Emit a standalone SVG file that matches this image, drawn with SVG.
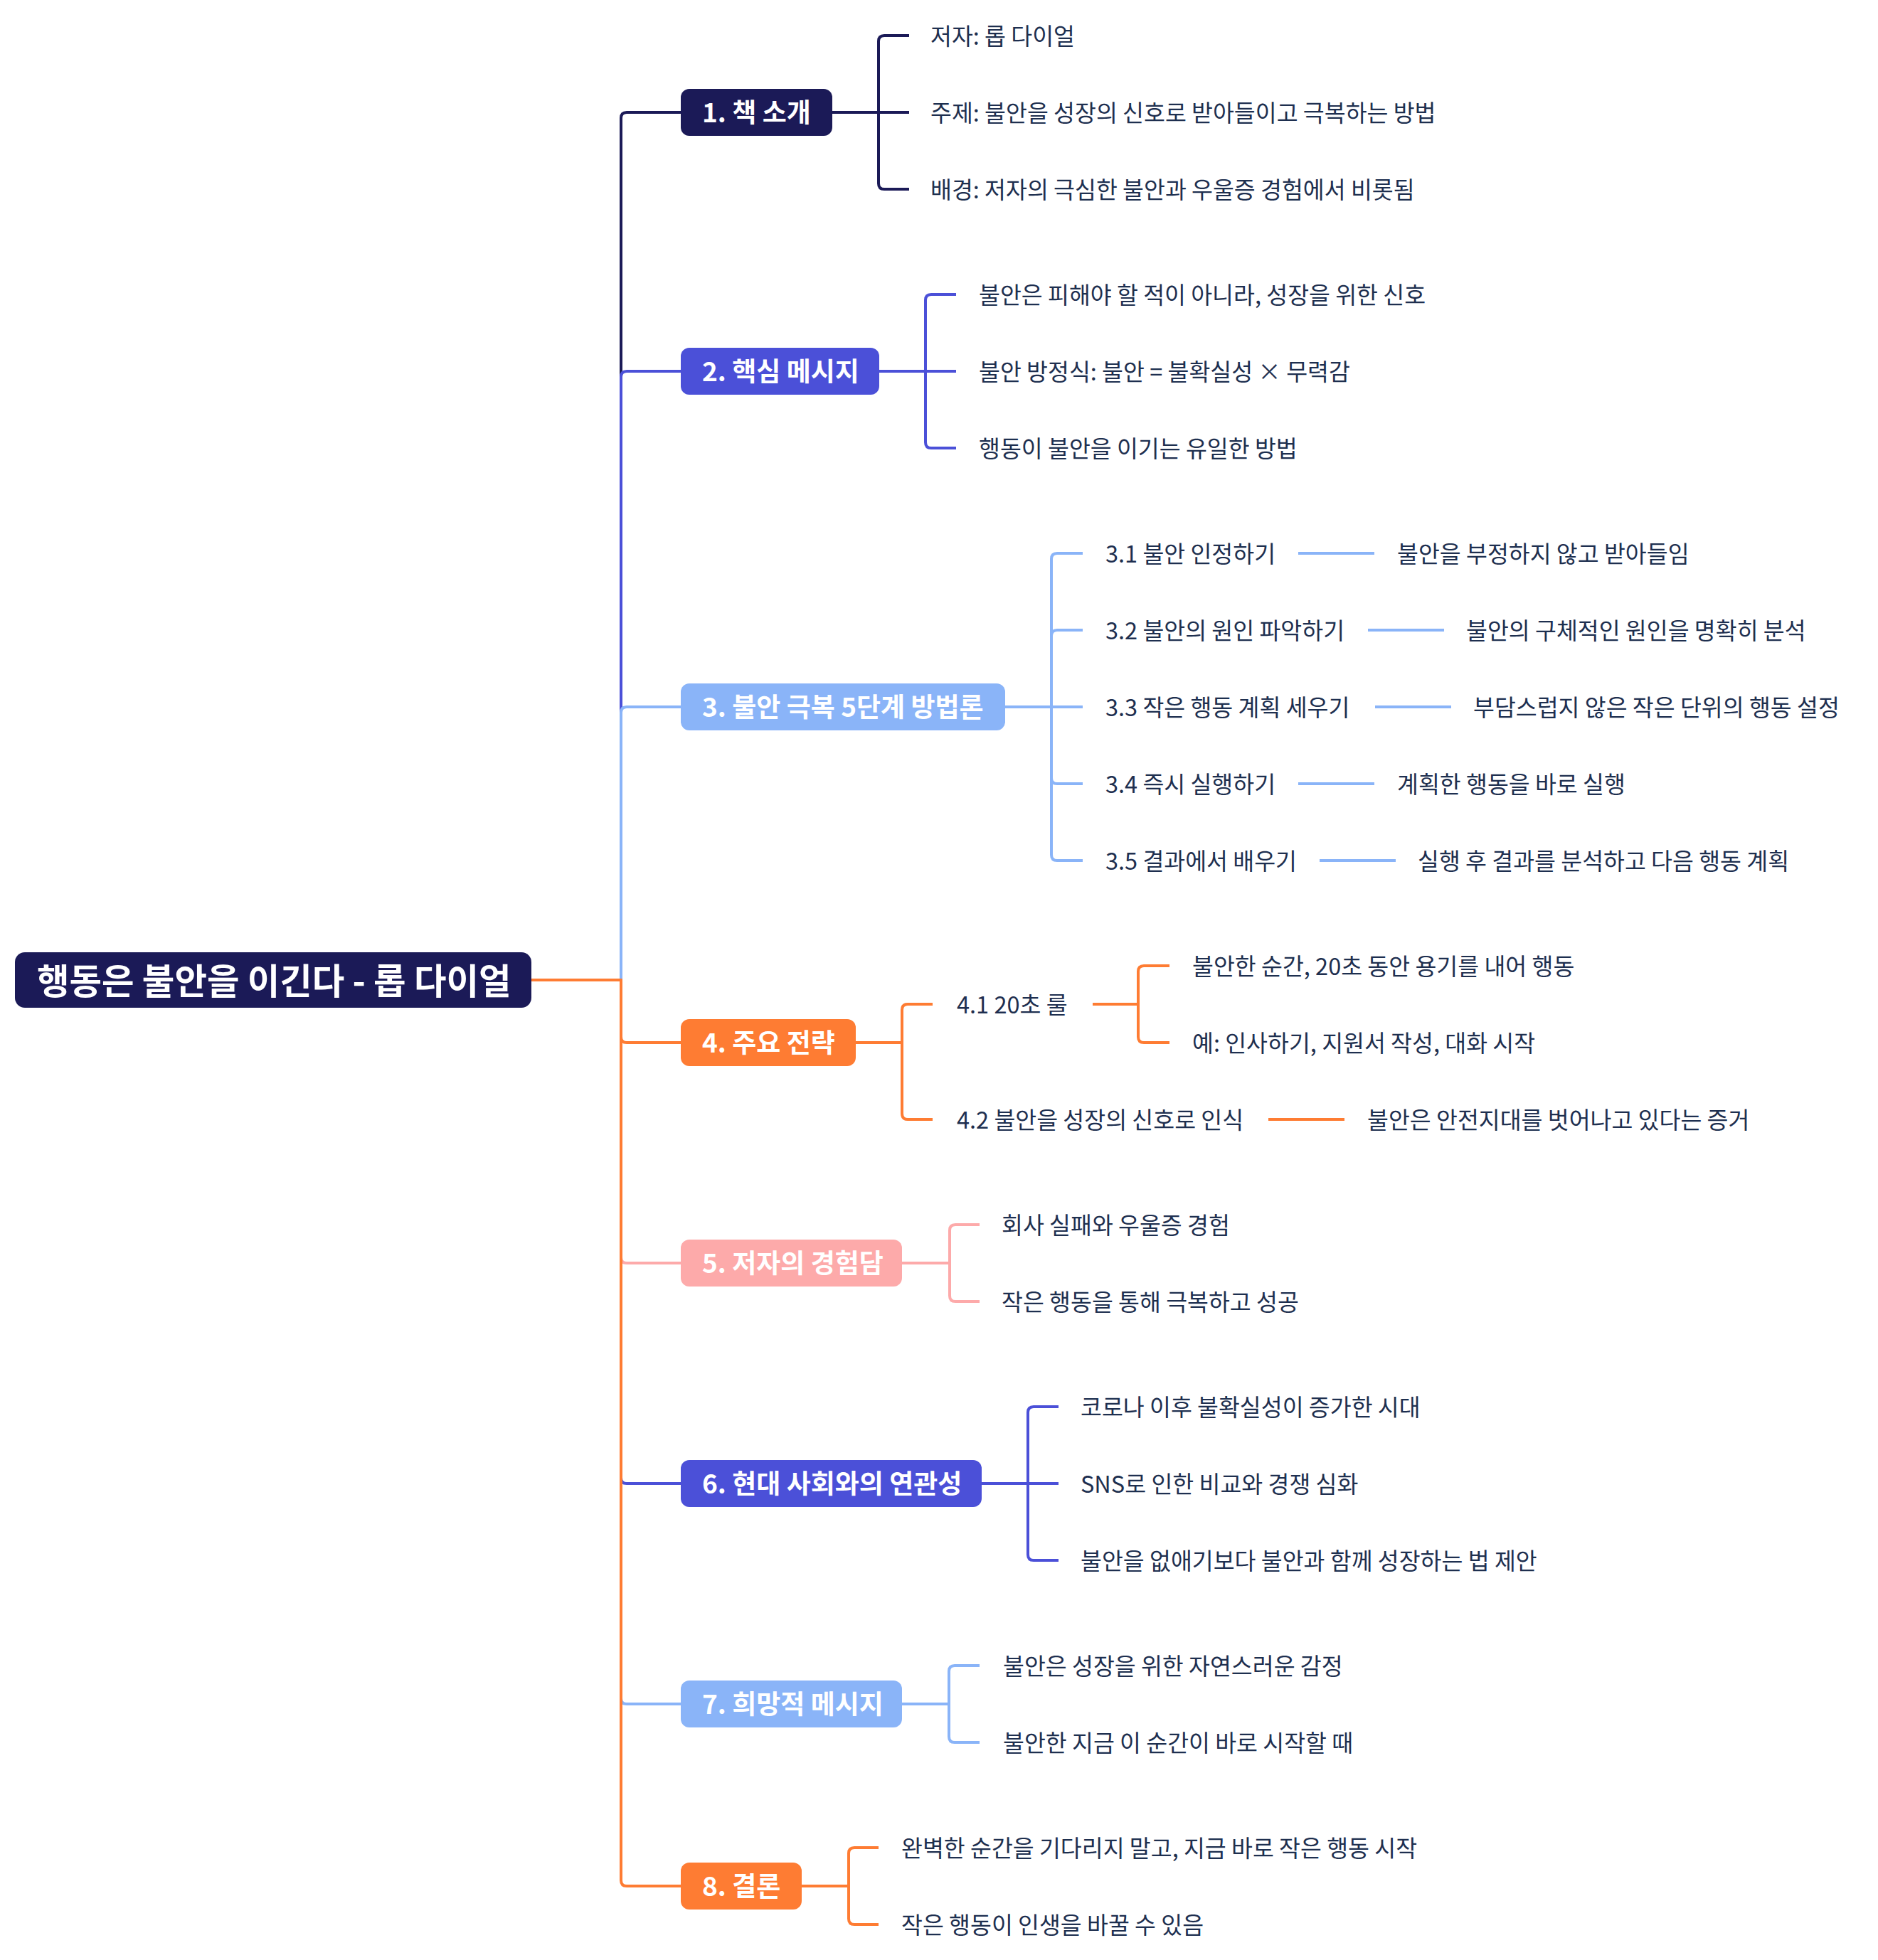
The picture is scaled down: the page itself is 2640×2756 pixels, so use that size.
<svg xmlns="http://www.w3.org/2000/svg" width="2640" height="2756" viewBox="0 0 2640 2756">
<style>
text{font-family:"Noto Sans CJK KR","Noto Sans",sans-serif;dominant-baseline:central;transform:translateY(-2px)}
.leaf{font-size:32.5px;fill:#1e2f4f}
.l1{font-size:37px;font-weight:700;fill:#ffffff}
.root{font-size:49.5px;font-weight:700;fill:#ffffff}
.c{fill:none;stroke-width:4;stroke-linejoin:round}
.navy{stroke:#1b1a57}.indigo{stroke:#4b50d8}.light{stroke:#8ab4f8}.orange{stroke:#fe7c33}.pink{stroke:#fdaaaa}
</style>
<rect width="2640" height="2756" fill="#ffffff"/>
<g id="connectors">
<path class="c navy" d="M747,1378 H873 V166 Q873,158 881,158 H957"/>
<path class="c indigo" d="M747,1378 H873 V530 Q873,522 881,522 H957"/>
<path class="c light" d="M747,1378 H873 V1002 Q873,994 881,994 H957"/>
<path class="c pink" d="M747,1378 H873 V1768 Q873,1776 881,1776 H957"/>
<path class="c indigo" d="M747,1378 H873 V2078 Q873,2086 881,2086 H957"/>
<path class="c light" d="M747,1378 H873 V2388 Q873,2396 881,2396 H957"/>
<path class="c orange" d="M747,1378 H873 V1458 Q873,1466 881,1466 H957"/>
<path class="c orange" d="M747,1378 H873 V2644 Q873,2652 881,2652 H957"/>
<path class="c navy" d="M1170,158 H1235 V58 Q1235,50 1243,50 H1278"/>
<path class="c navy" d="M1170,158 H1278"/>
<path class="c navy" d="M1170,158 H1235 V258 Q1235,266 1243,266 H1278"/>
<path class="c indigo" d="M1236,522 H1301 V422 Q1301,414 1309,414 H1344"/>
<path class="c indigo" d="M1236,522 H1344"/>
<path class="c indigo" d="M1236,522 H1301 V622 Q1301,630 1309,630 H1344"/>
<path class="c light" d="M1413,994 H1478 V786 Q1478,778 1486,778 H1522"/>
<path class="c light" d="M1413,994 H1478 V894 Q1478,886 1486,886 H1522"/>
<path class="c light" d="M1413,994 H1522"/>
<path class="c light" d="M1413,994 H1478 V1094 Q1478,1102 1486,1102 H1522"/>
<path class="c light" d="M1413,994 H1478 V1202 Q1478,1210 1486,1210 H1522"/>
<path class="c light" d="M1825,778 H1932"/>
<path class="c light" d="M1923,886 H2030"/>
<path class="c light" d="M1933,994 H2040"/>
<path class="c light" d="M1825,1102 H1932"/>
<path class="c light" d="M1855,1210 H1962"/>
<path class="c orange" d="M1203,1466 H1268 V1420 Q1268,1412 1276,1412 H1311"/>
<path class="c orange" d="M1203,1466 H1268 V1566 Q1268,1574 1276,1574 H1311"/>
<path class="c orange" d="M1536,1412 H1600 V1366 Q1600,1358 1608,1358 H1644"/>
<path class="c orange" d="M1536,1412 H1600 V1458 Q1600,1466 1608,1466 H1644"/>
<path class="c orange" d="M1783,1574 H1890"/>
<path class="c pink" d="M1268,1776 H1335 V1730 Q1335,1722 1343,1722 H1377"/>
<path class="c pink" d="M1268,1776 H1335 V1822 Q1335,1830 1343,1830 H1377"/>
<path class="c indigo" d="M1380,2086 H1445 V1986 Q1445,1978 1453,1978 H1488"/>
<path class="c indigo" d="M1380,2086 H1488"/>
<path class="c indigo" d="M1380,2086 H1445 V2186 Q1445,2194 1453,2194 H1488"/>
<path class="c light" d="M1268,2396 H1334 V2350 Q1334,2342 1342,2342 H1377"/>
<path class="c light" d="M1268,2396 H1334 V2442 Q1334,2450 1342,2450 H1377"/>
<path class="c orange" d="M1127,2652 H1193 V2606 Q1193,2598 1201,2598 H1235"/>
<path class="c orange" d="M1127,2652 H1193 V2698 Q1193,2706 1201,2706 H1235"/>
</g>
<g id="root"><rect x="21" y="1339" width="726" height="78" rx="14" fill="#1b1a57"/><text class="root" x="52" y="1378">행동은 불안을 이긴다 - 롭 다이얼</text></g>
<g id="n1"><rect x="957" y="125" width="213" height="66" rx="12" fill="#1b1a57"/><text class="l1" x="987" y="158">1. 책 소개</text></g>
<g id="n1-1"><text class="leaf" x="1308" y="50">저자: 롭 다이얼</text></g>
<g id="n1-2"><text class="leaf" x="1308" y="158">주제: 불안을 성장의 신호로 받아들이고 극복하는 방법</text></g>
<g id="n1-3"><text class="leaf" x="1308" y="266">배경: 저자의 극심한 불안과 우울증 경험에서 비롯됨</text></g>
<g id="n2"><rect x="957" y="489" width="279" height="66" rx="12" fill="#4b50d8"/><text class="l1" x="987" y="522">2. 핵심 메시지</text></g>
<g id="n2-1"><text class="leaf" x="1376" y="414">불안은 피해야 할 적이 아니라, 성장을 위한 신호</text></g>
<g id="n2-2"><text class="leaf" x="1376" y="522">불안 방정식: 불안 = 불확실성 × 무력감</text></g>
<g id="n2-3"><text class="leaf" x="1376" y="630">행동이 불안을 이기는 유일한 방법</text></g>
<g id="n3"><rect x="957" y="961" width="456" height="66" rx="12" fill="#8ab4f8"/><text class="l1" x="987" y="994">3. 불안 극복 5단계 방법론</text></g>
<g id="n3-1"><text class="leaf" x="1554" y="778">3.1 불안 인정하기</text></g>
<g id="n3-1-1"><text class="leaf" x="1964" y="778">불안을 부정하지 않고 받아들임</text></g>
<g id="n3-2"><text class="leaf" x="1554" y="886">3.2 불안의 원인 파악하기</text></g>
<g id="n3-2-1"><text class="leaf" x="2061" y="886">불안의 구체적인 원인을 명확히 분석</text></g>
<g id="n3-3"><text class="leaf" x="1554" y="994">3.3 작은 행동 계획 세우기</text></g>
<g id="n3-3-1"><text class="leaf" x="2071" y="994">부담스럽지 않은 작은 단위의 행동 설정</text></g>
<g id="n3-4"><text class="leaf" x="1554" y="1102">3.4 즉시 실행하기</text></g>
<g id="n3-4-1"><text class="leaf" x="1964" y="1102">계획한 행동을 바로 실행</text></g>
<g id="n3-5"><text class="leaf" x="1554" y="1210">3.5 결과에서 배우기</text></g>
<g id="n3-5-1"><text class="leaf" x="1993" y="1210">실행 후 결과를 분석하고 다음 행동 계획</text></g>
<g id="n4"><rect x="957" y="1433" width="246" height="66" rx="12" fill="#fe7c33"/><text class="l1" x="987" y="1466">4. 주요 전략</text></g>
<g id="n4-1"><text class="leaf" x="1345" y="1412">4.1 20초 룰</text></g>
<g id="n4-1-1"><text class="leaf" x="1676" y="1358">불안한 순간, 20초 동안 용기를 내어 행동</text></g>
<g id="n4-1-2"><text class="leaf" x="1676" y="1466">예: 인사하기, 지원서 작성, 대화 시작</text></g>
<g id="n4-2"><text class="leaf" x="1345" y="1574">4.2 불안을 성장의 신호로 인식</text></g>
<g id="n4-2-1"><text class="leaf" x="1922" y="1574">불안은 안전지대를 벗어나고 있다는 증거</text></g>
<g id="n5"><rect x="957" y="1743" width="311" height="66" rx="12" fill="#fdaaaa"/><text class="l1" x="987" y="1776">5. 저자의 경험담</text></g>
<g id="n5-1"><text class="leaf" x="1408" y="1722">회사 실패와 우울증 경험</text></g>
<g id="n5-2"><text class="leaf" x="1408" y="1830">작은 행동을 통해 극복하고 성공</text></g>
<g id="n6"><rect x="957" y="2053" width="423" height="66" rx="12" fill="#4b50d8"/><text class="l1" x="987" y="2086">6. 현대 사회와의 연관성</text></g>
<g id="n6-1"><text class="leaf" x="1519" y="1978">코로나 이후 불확실성이 증가한 시대</text></g>
<g id="n6-2"><text class="leaf" x="1519" y="2086">SNS로 인한 비교와 경쟁 심화</text></g>
<g id="n6-3"><text class="leaf" x="1519" y="2194">불안을 없애기보다 불안과 함께 성장하는 법 제안</text></g>
<g id="n7"><rect x="957" y="2363" width="311" height="66" rx="12" fill="#8ab4f8"/><text class="l1" x="987" y="2396">7. 희망적 메시지</text></g>
<g id="n7-1"><text class="leaf" x="1410" y="2342">불안은 성장을 위한 자연스러운 감정</text></g>
<g id="n7-2"><text class="leaf" x="1410" y="2450">불안한 지금 이 순간이 바로 시작할 때</text></g>
<g id="n8"><rect x="957" y="2619" width="170" height="66" rx="12" fill="#fe7c33"/><text class="l1" x="987" y="2652">8. 결론</text></g>
<g id="n8-1"><text class="leaf" x="1267" y="2598">완벽한 순간을 기다리지 말고, 지금 바로 작은 행동 시작</text></g>
<g id="n8-2"><text class="leaf" x="1267" y="2706">작은 행동이 인생을 바꿀 수 있음</text></g>
</svg>
